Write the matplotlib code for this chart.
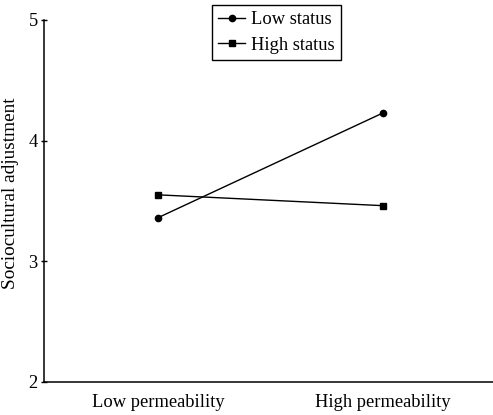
import numpy as np
import matplotlib.pyplot as plt

plt.rcParams["font.family"] = ["Liberation Serif", "DejaVu Serif"]
fontsize = 13.3
plt.rcParams["font.size"] = fontsize

# data
conditions = ["Low permeability", "High permeability"]
low_status = [3.36, 4.23]
high_status = [3.55, 3.46]
yticks = [2, 3, 4, 5]

fig = plt.figure(figsize=(4.93, 4.15), dpi=100)
ax = fig.add_axes([0.089, 0.080, 0.911, 0.872])

x = np.arange(len(conditions))
ax.plot(x, low_status, ls="-", marker="o", ms=4.5, color="black", lw=1.0,
        label="Low status")
ax.plot(x, high_status, ls="-", marker="s", ms=5, color="black", lw=1.0,
        label="High status")

ax.set_xlim(-0.506, 1.487)
ax.set_ylim(2, 5)
ax.set_xticks(x)
ax.set_xticklabels(conditions)
ax.set_yticks(yticks)
ax.tick_params(axis="x", length=0, pad=9)
ax.tick_params(axis="y", direction="inout", length=5, width=1, pad=2)
for s in ["top", "right"]:
    ax.spines[s].set_visible(False)
for s in ["left", "bottom"]:
    ax.spines[s].set_linewidth(1.1)

ax.set_ylabel("Sociocultural adjustment", fontsize=13.9)
ax.yaxis.set_label_coords(-0.055, 0.52)

leg = ax.legend(loc="upper left", bbox_to_anchor=(212 / 493, 1 - 5 / 415),
                bbox_transform=fig.transFigure, borderaxespad=0,
                fancybox=False, edgecolor="black", framealpha=1,
                handlelength=1.45, handletextpad=0.3, labelspacing=0.45,
                borderpad=0.35, fontsize=fontsize)
leg.get_frame().set_linewidth(1.0)

fig.savefig("out.png", dpi=100)
